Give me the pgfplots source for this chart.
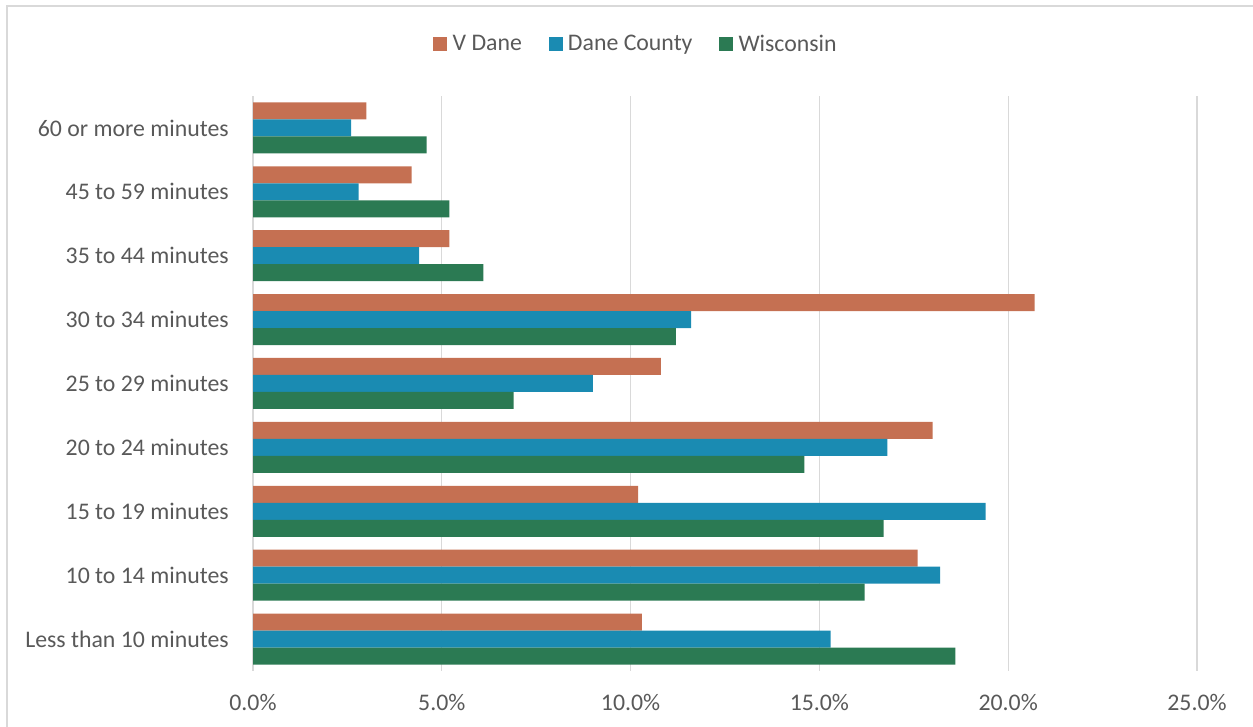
\documentclass[border=0pt]{standalone}
\usepackage{pgfplots}
\usepackage{pgfplotstable}
\pgfplotsset{compat=1.18}
\usepackage{fontspec}
\setmainfont{Carlito}
\definecolor{cOr}{RGB}{197,112,82}
\definecolor{cBl}{RGB}{26,139,178}
\definecolor{cGr}{RGB}{43,122,83}
\definecolor{cGrid}{RGB}{217,217,217}
\definecolor{cTxt}{RGB}{89,89,89}
\pgfplotstableread{
y vdane dane wi
0 10.3 15.3 18.6
1 17.6 18.2 16.2
2 10.2 19.4 16.7
3 18.0 16.8 14.6
4 10.8 9.0 6.9
5 20.7 11.6 11.2
6 5.2 4.4 6.1
7 4.2 2.8 5.2
8 3.0 2.6 4.6
}\datatable
\begin{document}
\begin{tikzpicture}
\useasboundingbox (0pt,0pt) rectangle (939.75pt,545.25pt);
\draw[cGrid, line width=1pt] (5.25pt,-5pt) -- (5.25pt,540.75pt) -- (950pt,540.75pt);
\begin{axis}[
  at={(189.75pt,42pt)}, anchor=south west,
  scale only axis, width=708pt, height=431.25pt,
  xmin=0, xmax=25, ymin=-0.5, ymax=8.5,
  xbar, bar width=12.75pt,
  axis line style={draw=none},
  major tick length=0pt, tick style={draw=none},
  xtick={0,5,10,15,20,25},
  xmajorgrids, grid style={cGrid, line width=1pt},
  ytick={0,...,8},
  yticklabels={Less than 10 minutes,10 to 14 minutes,15 to 19 minutes,20 to 24 minutes,25 to 29 minutes,30 to 34 minutes,35 to 44 minutes,45 to 59 minutes,60 or more minutes},
  /pgf/number format/assume math mode=true,
  xticklabel={\pgfmathprintnumber[fixed,fixed zerofill,precision=1]{\tick}\%},
  tick label style={font=\fontsize{17.85}{21}\selectfont, text=cTxt},
  xticklabel style={inner sep=0pt, anchor=north, yshift=-17pt},
  yticklabel style={inner sep=0pt, anchor=east, xshift=-18pt},
  legend columns=3,
  legend style={draw=none, fill=none, at={(0.4047,1.0904)}, anchor=center,
    font=\fontsize{17.85}{21}\selectfont, text=cTxt,
    nodes={inner sep=0pt},
    /tikz/every odd column/.append style={column sep=4pt},
    /tikz/every even column/.append style={column sep=20pt}},
]
\addplot[fill=cOr, draw=none, bar shift=12.75pt,
  legend image code/.code={\fill[cOr] (0pt,-5.25pt) rectangle (10.5pt,5.25pt);}]
  table[x=vdane,y=y]{\datatable};
\addplot[fill=cBl, draw=none, bar shift=0pt,
  legend image code/.code={\fill[cBl] (0pt,-5.25pt) rectangle (10.5pt,5.25pt);}]
  table[x=dane,y=y]{\datatable};
\addplot[fill=cGr, draw=none, bar shift=-12.75pt,
  legend image code/.code={\fill[cGr] (0pt,-5.25pt) rectangle (10.5pt,5.25pt);}]
  table[x=wi,y=y]{\datatable};
\legend{V Dane, Dane County, Wisconsin}
\end{axis}
\end{tikzpicture}
\end{document}
